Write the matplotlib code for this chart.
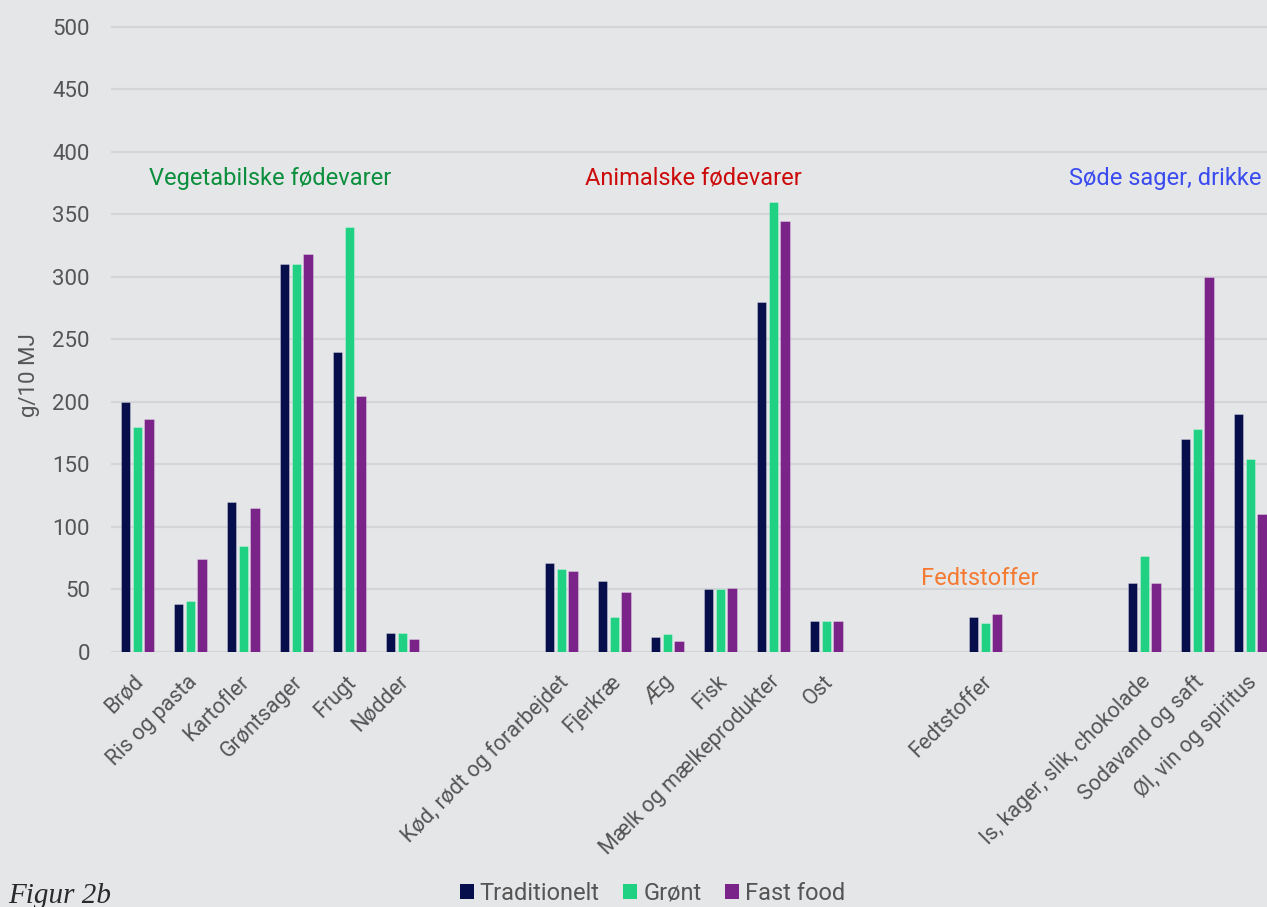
import matplotlib
matplotlib.use("Agg")
import matplotlib.pyplot as plt
import numpy as np
from matplotlib.patches import Patch
from matplotlib.transforms import ScaledTranslation

BACKGROUND = "#e5e6e8"
GRIDLINE = "#d4d5d8"
TICK_INK = "#555555"
SERIES_COLORS = ["#060e4b", "#20d083", "#7a2389"]

# data
GROUP_TITLES = ["Vegetabilske fødevarer", "Animalske fødevarer", "Fedtstoffer", "Søde sager, drikke"]
GROUP_COLORS = ["#0b8f3c", "#cc0a0a", "#f57a32", "#3a4bef"]
GROUP_SIZES = [6, 6, 1, 3]
CATEGORIES = [
    "Brød", "Ris og pasta", "Kartofler", "Grøntsager", "Frugt", "Nødder",
    "Kød, rødt og forarbejdet", "Fjerkræ", "Æg", "Fisk", "Mælk og mælkeprodukter", "Ost",
    "Fedtstoffer",
    "Is, kager, slik, chokolade", "Sodavand og saft", "Øl, vin og spiritus",
]
SERIES = ["Traditionelt", "Grønt", "Fast food"]
TRADITIONELT = [200, 38, 120, 310, 240, 15, 71, 57, 12, 50, 280, 25, 28, 55, 170, 190]
GROENT = [180, 41, 85, 310, 340, 15, 66, 28, 14, 50, 360, 25, 23, 77, 178, 154]
FAST_FOOD = [186, 74, 115, 318, 205, 10, 65, 48, 9, 51, 345, 25, 30, 55, 300, 110]
Y_TICKS = [0, 50, 100, 150, 200, 250, 300, 350, 400, 450, 500]

plt.rcParams["font.family"] = ["Roboto", "DejaVu Sans"]

# slot positions: two empty slots between groups
positions = []
group_centers = []
start = 0
for size in GROUP_SIZES:
    slots = list(range(start, start + size))
    positions.extend(slots)
    group_centers.append(np.mean(slots))
    start += size + 2
positions = np.array(positions, dtype=float)

fig = plt.figure(figsize=(12.67, 9.07), dpi=100, facecolor=BACKGROUND)
ax = fig.add_axes([0.08745, 0.28115, 1 - 0.08745, 0.6922])
ax.set_facecolor(BACKGROUND)

bar_w = 0.176
step = 0.223
for k, (vals, color) in enumerate(zip([TRADITIONELT, GROENT, FAST_FOOD], SERIES_COLORS)):
    ax.bar(positions + (k - 1) * step, vals, width=bar_w, color=color,
           edgecolor=(1, 1, 1, 0.35), linewidth=0.6, zorder=3)

ax.set_xlim(-0.5, -0.5 + (1267 - 110.8) / 53)
ax.set_ylim(0, 502)
ax.set_yticks(Y_TICKS)
ax.yaxis.grid(True, color=GRIDLINE, linewidth=1.6, zorder=0)
ax.set_axisbelow(True)
for spine in ax.spines.values():
    spine.set_visible(False)
ax.tick_params(axis="y", length=0, pad=15, labelsize=16, labelcolor=TICK_INK)
ax.tick_params(axis="x", length=0, pad=14, labelsize=15.5, labelcolor=TICK_INK)

ax.set_xticks(positions)
ax.set_xticklabels(CATEGORIES, rotation=45, ha="right", va="top", rotation_mode="anchor")
shift = ScaledTranslation(-0.04, 0, fig.dpi_scale_trans)
for lab in ax.get_xticklabels():
    lab.set_transform(lab.get_transform() + shift)

# group titles
ax.text(group_centers[0], 379, GROUP_TITLES[0], color=GROUP_COLORS[0], fontsize=17, ha="center", va="center")
ax.text(group_centers[1], 379, GROUP_TITLES[1], color=GROUP_COLORS[1], fontsize=17, ha="center", va="center")
ax.text(group_centers[2] - 0.1, 59, GROUP_TITLES[2], color=GROUP_COLORS[2], fontsize=17, ha="center", va="center")
ax.text(21.22, 379, GROUP_TITLES[3], color=GROUP_COLORS[3], fontsize=17, ha="right", va="center")

fig.text(30 / 1267, 1 - 375 / 907, "g/10 MJ", rotation=90, ha="center", va="center",
         fontsize=16, color=TICK_INK)

handles = [Patch(facecolor=c, edgecolor="none") for c in SERIES_COLORS]
fig.legend(handles, SERIES, loc="center", bbox_to_anchor=(0.515, 1 - 893 / 907), ncol=3,
           frameon=False, fontsize=17, labelcolor=TICK_INK, handlelength=0.6, handleheight=0.6,
           handletextpad=0.25, columnspacing=1.0, borderaxespad=0)

fig.text(8 / 1267, 1 - 903 / 907, "Figur 2b", fontsize=21, style="italic",
         family=["Liberation Serif", "DejaVu Serif"], color="#2a2a2a", ha="left", va="baseline")

fig.savefig("out.png", dpi=100, facecolor=BACKGROUND)
